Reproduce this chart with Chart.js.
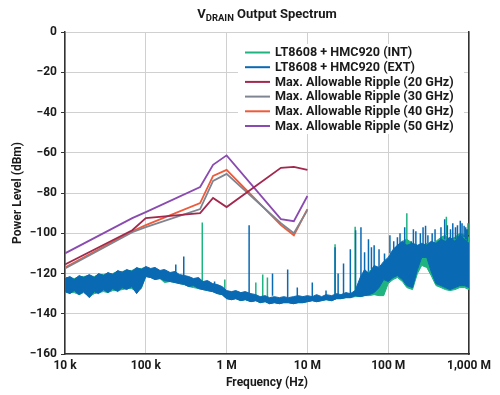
<!DOCTYPE html>
<html>
<head>
<meta charset="utf-8">
<script src="https://cdn.jsdelivr.net/npm/chart.js@4.4.1/dist/chart.umd.min.js"></script>
<style>
  html, body { margin: 0; padding: 0; background: #fff; }
  #wrap { width: 500px; height: 395px; }
</style>
</head>
<body>
<div id="wrap"><canvas id="chart" width="500" height="395"></canvas></div>
<script>
// ---- data ----

// title pieces: V + subscript DRAIN + rest
const titleParts = ['V', 'DRAIN', ' Output Spectrum'];

const seriesLabels = [
    'LT8608 + HMC920 (INT)',
    'LT8608 + HMC920 (EXT)',
    'Max. Allowable Ripple (20 GHz)',
    'Max. Allowable Ripple (30 GHz)',
    'Max. Allowable Ripple (40 GHz)',
    'Max. Allowable Ripple (50 GHz)'
];

// x axis ticks (Hz)
const xTickVals = [1e4, 1e5, 1e6, 1e7, 1e8, 1e9];
const xTickLabels = ['10 k', '100 k', '1 M', '10 M', '100 M', '1,000 M'];

// ripple limit lines (Hz / dBm)
const rippleFreq = [1e4, 6.8e4, 1e5, 4.7e5, 6.8e5, 1e6, 4.7e6, 6.8e6, 1e7];
const ripple20 = [-115.5, -98.5, -92.5, -90, -82.5, -87, -67.5, -67, -68.5];
const ripple30 = [-117.5, -99.5, -97, -88, -74, -70.5, -95, -100, -88.5];
const ripple40 = [-117, -99, -96, -85, -71.5, -68.5, -96, -101, -88];
const ripple50 = [-110, -92.5, -89.5, -77, -66, -61.3, -93, -94, -81.5];

// noise floor band: upper / lower envelope on a common frequency grid
const bandFreq = [
    1e4, 1.15e4, 1.3e4, 1.5e4, 1.7e4, 2e4, 2.3e4, 2.6e4, 3e4, 3.4e4, 3.9e4, 4.5e4, 5.1e4, 5.8e4, 6.7e4, 7.7e4, 8.8e4,
    1e5, 1.15e5, 1.3e5, 1.5e5, 1.7e5, 2e5, 2.3e5, 2.6e5, 3e5, 3.4e5, 3.9e5, 4.5e5, 5.1e5, 5.8e5, 6.7e5, 7.7e5, 8.8e5,
    1e6, 1.15e6, 1.3e6, 1.5e6, 1.7e6, 2e6, 2.3e6, 2.6e6, 3e6, 3.4e6, 3.9e6, 4.5e6, 5.1e6, 5.8e6, 6.7e6, 7.7e6, 8.8e6,
    1e7, 1.15e7, 1.3e7, 1.5e7, 1.7e7, 2e7, 2.3e7, 2.6e7, 3e7, 3.4e7, 3.9e7, 4.5e7, 5.1e7, 5.8e7, 6.7e7, 7.7e7, 8.8e7,
    1e8, 1.15e8, 1.3e8, 1.5e8, 1.7e8, 2e8, 2.3e8, 2.6e8, 3e8, 3.4e8, 3.9e8, 4.5e8, 5.1e8, 5.8e8, 6.7e8, 7.7e8, 8.8e8,
    1e9
];
const extHi = [
    -122.5, -121.5, -123, -121, -122, -120.5, -122, -120, -121, -119.5, -120.5, -118.5, -119.5, -118, -119, -117, -118,
    -116.5, -117.5, -117, -118.5, -118, -119.5, -119, -120.5, -121, -121.5, -122.5, -122, -124, -123.5, -125, -125.5, -126.5,
    -128.5, -129, -128.5, -129.5, -129, -130, -130.5, -131.5, -131, -132, -131.5, -132, -131.5, -132, -131.5, -131, -131.5,
    -131, -131.5, -130.5, -131.5, -130.5, -131, -130, -130.5, -129.5, -130, -128.5, -122, -118, -120, -116, -117, -114,
    -112, -108, -106, -104, -106, -105, -106, -105, -106, -104, -105, -103, -104, -102, -104, -101, -103,
    -105
];
const extLo = [
    -129, -130, -128.5, -130.5, -129, -132, -129, -130, -128, -129.5, -127.5, -129, -127, -128, -126.5, -130, -127,
    -121.5, -122, -123, -122.5, -123.5, -124, -124.5, -125, -125.5, -126.5, -126, -127.5, -128, -128.5, -129, -130, -130.5,
    -132.5, -133, -132.5, -133.5, -133, -134, -133.5, -134.5, -134, -135, -134.5, -135, -134.5, -134.5, -135, -134.5, -134.5,
    -134, -133.5, -134, -133.5, -133, -133.5, -132.5, -132.5, -132, -132, -131, -131.5, -131, -130.5, -129.5, -127, -123,
    -124, -122, -121, -123, -126, -127, -118, -112, -112, -119, -125, -126, -127, -128, -127, -126, -126,
    -127
];
const intHi = [
    -122, -122, -122.5, -121.5, -121.5, -121, -121.5, -120.5, -120.5, -120, -120, -119, -119, -118.5, -118.5, -117.5, -117.5,
    -117, -118, -117.5, -119, -118.5, -120, -119.5, -121, -121.5, -122, -123, -122.5, -124.5, -124, -125.5, -126, -127,
    -129, -129.5, -129, -130, -129.5, -130.5, -131, -132, -131.5, -132.5, -132, -132.5, -132, -132.5, -132, -131.5, -132,
    -131.5, -132, -131, -132, -131, -131.5, -130.5, -131, -130, -130.5, -129, -124, -120, -119, -117, -118, -116,
    -113, -109, -106, -104, -103, -105, -106, -107, -105, -105, -104, -102, -101, -103, -102, -100, -101,
    -102
];
const intLo = [
    -129.5, -129.5, -129.5, -130.5, -129.5, -131.5, -130, -129.5, -129, -129.5, -128.5, -128.5, -128, -127.5, -127.5, -129, -127.5,
    -121.5, -122, -123, -122.5, -124.5, -124, -124.5, -125, -125.5, -126.5, -127, -127.5, -128, -128.5, -129, -130, -130.5,
    -132.5, -133, -132.5, -133.5, -133, -134, -133.5, -134.5, -134, -135, -134.5, -135, -134.5, -134.5, -135, -134.5, -134.5,
    -134, -133.5, -134, -133.5, -133, -133.5, -132.5, -132.5, -132, -132, -131.5, -131.5, -131, -131, -130.5, -131, -131,
    -125, -123, -122, -124, -127, -128, -120, -116, -117, -121, -126, -127, -128, -128.5, -128, -127, -127,
    -128
];

// narrow spurs: frequency, peak, foot (dBm)
const extSpurFreq = [2.35e5, 2.95e5, 7.1e5, 1.9e6, 3.7e6, 5.7e6, 7.5e6, 1.15e7, 1.7e7, 2.2e7, 2.4e7, 2.8e7, 3.4e7, 3.95e7,
    4.6e7, 5.1e7, 5.7e7, 6.2e7, 6.7e7, 7.7e7, 9e7, 1.05e8, 1.17e8, 1.3e8, 1.4e8, 1.6e8, 1.93e8, 2.05e8, 2.2e8, 2.5e8,
    2.7e8, 2.9e8, 3.1e8, 3.5e8, 3.8e8, 4.2e8, 4.5e8, 5e8, 5.4e8, 5.9e8, 6.3e8, 6.8e8, 7.2e8, 7.8e8, 8.2e8, 8.7e8,
    9.1e8, 9.5e8];
const extSpurPeak = [-115.5, -111.5, -124, -96, -120, -118, -127, -124.5, -128.5, -107, -120, -115, -108, -98.5,
    -97, -109.5, -103, -107, -106, -108, -110, -101, -104, -102, -100, -97, -104, -98, -99, -100,
    -97, -96.3, -101, -100, -98, -104.5, -97, -93, -96, -98, -95, -97, -96, -93.8, -95, -96.3,
    -97, -98];
const extSpurFoot = [-120, -122, -127, -130, -131, -132, -132, -132, -132, -131, -131, -131, -130, -129,
    -125, -119, -119, -118, -117, -117, -114, -110, -108, -107, -106, -105, -106, -106, -106, -106,
    -106, -106, -105, -106, -104, -106, -104, -103, -104, -103, -103, -103, -103, -102, -102, -102,
    -103, -104];

const intSpurFreq = [5e5, 9.5e5, 2.3e6, 2.8e6, 3.2e6, 2.2e7, 3.9e7, 1.7e8, 5.25e8, 9.7e8];
const intSpurPeak = [-94.6, -123, -124.5, -120.5, -122, -105.5, -96.8, -90, -91.8, -95];
const intSpurFoot = [-126, -130, -131, -132, -132, -131, -129, -104, -101, -101];

// ---- colours ----
const colors = {
    int: '#1fb380',
    ext: '#0a69b3',
    r20: '#a3284e',
    r30: '#7f8590',
    r40: '#ee5a3a',
    r50: '#8a4ab0'
};

const pts = (freq, vals) => freq.map((f, i) => ({ x: f, y: vals[i] }));
const spurs = (freq, peak, foot) => freq.flatMap((f, i) => [
    { x: f, y: foot[i] }, { x: f, y: peak[i] }, { x: f, y: null }
]);

function rippleSet(label, color, vals) {
    return {
        label: label,
        data: pts(rippleFreq, vals),
        borderColor: color,
        backgroundColor: color,
        borderWidth: 1.8,
        pointRadius: 0,
        tension: 0,
        order: 0
    };
}

// Title with subscript, drawn above the plot
const titlePlugin = {
    id: 'vdrainTitle',
    afterDraw(chart) {
        const ctx = chart.ctx;
        const area = chart.chartArea;
        const big = 'bold 13px Roboto';
        const small = 'bold 9.5px Roboto';
        ctx.save();
        ctx.fillStyle = '#1a1a1a';
        ctx.textBaseline = 'alphabetic';
        ctx.font = big;
        const w0 = ctx.measureText(titleParts[0]).width;
        const w2 = ctx.measureText(titleParts[2]).width;
        ctx.font = small;
        const w1 = ctx.measureText(titleParts[1]).width;
        let x = (area.left + area.right) / 2 - (w0 + w1 + w2) / 2;
        ctx.font = big;
        ctx.fillText(titleParts[0], x, 18);
        x += w0;
        ctx.font = small;
        ctx.fillText(titleParts[1], x, 21);
        x += w1;
        ctx.font = big;
        ctx.fillText(titleParts[2], x, 18);
        ctx.restore();
    }
};

// Boxed legend inside the plot (upper right)
const legendPlugin = {
    id: 'boxLegend',
    beforeDatasetsDraw(chart) {
        const ctx = chart.ctx;
        const box = { x: 238, y: 44, w: 226, h: 90 };
        ctx.save();
        ctx.fillStyle = '#fff';
        ctx.fillRect(box.x, box.y, box.w, box.h);
        ctx.font = 'bold 12.6px Roboto';
        ctx.textBaseline = 'middle';
        ctx.fillStyle = '#1a1a1a';
        chart.data.datasets.filter(d => d.label).forEach((ds, i) => {
            const y = box.y + 8.5 + i * 14.7;
            ctx.strokeStyle = ds.borderColor;
            ctx.lineWidth = 2;
            ctx.beginPath();
            ctx.moveTo(box.x + 7, y);
            ctx.lineTo(box.x + 32, y);
            ctx.stroke();
            ctx.fillText(ds.label, box.x + 37, y + 0.5);
        });
        ctx.restore();
    }
};

Chart.defaults.font.family = 'Roboto';
Chart.defaults.font.size = 12;
Chart.defaults.font.weight = 'bold';
Chart.defaults.color = '#1a1a1a';

const ctx = document.getElementById('chart').getContext('2d');
new Chart(ctx, {
    type: 'line',
    data: {
        datasets: [
            {
                label: seriesLabels[0],
                data: pts(bandFreq, intHi),
                borderColor: colors.int,
                backgroundColor: colors.int,
                borderWidth: 1,
                pointRadius: 0,
                fill: 6,
                order: 3
            },
            {
                label: seriesLabels[1],
                data: pts(bandFreq, extHi),
                borderColor: colors.ext,
                backgroundColor: colors.ext,
                borderWidth: 1,
                pointRadius: 0,
                fill: 7,
                order: 2
            },
            rippleSet(seriesLabels[2], colors.r20, ripple20),
            rippleSet(seriesLabels[3], colors.r30, ripple30),
            rippleSet(seriesLabels[4], colors.r40, ripple40),
            rippleSet(seriesLabels[5], colors.r50, ripple50),
            // lower envelopes (fill targets), no legend entry
            {
                data: pts(bandFreq, intLo),
                borderColor: colors.int,
                borderWidth: 1,
                pointRadius: 0,
                fill: false,
                order: 3
            },
            {
                data: pts(bandFreq, extLo),
                borderColor: colors.ext,
                borderWidth: 1,
                pointRadius: 0,
                fill: false,
                order: 2
            },
            // spurs
            {
                data: spurs(intSpurFreq, intSpurPeak, intSpurFoot),
                borderColor: colors.int,
                borderWidth: 1.5,
                pointRadius: 0,
                spanGaps: false,
                order: 3
            },
            {
                data: spurs(extSpurFreq, extSpurPeak, extSpurFoot),
                borderColor: colors.ext,
                borderWidth: 1.5,
                pointRadius: 0,
                spanGaps: false,
                order: 2
            }
        ]
    },
    options: {
        responsive: false,
        animation: false,
        layout: {
            padding: { top: 32, right: 31, bottom: 0, left: 0 }
        },
        plugins: {
            legend: { display: false },
            title: { display: false },
            tooltip: { enabled: false }
        },
        scales: {
            x: {
                type: 'logarithmic',
                min: 1e4,
                max: 1e9,
                afterBuildTicks: axis => {
                    axis.ticks = xTickVals.map(v => ({ value: v }));
                },
                afterFit: axis => { axis.height = 41; },
                ticks: {
                    autoSkip: false,
                    maxRotation: 0,
                    padding: 5,
                    callback: (v, i) => xTickLabels[i]
                },
                grid: { color: '#d0d0d0', drawTicks: false },
                border: { color: '#333', width: 1.5 },
                title: {
                    display: true,
                    text: 'Frequency (Hz)',
                    padding: { top: 0, bottom: 5 }
                }
            },
            y: {
                min: -160,
                max: 0,
                afterFit: axis => { axis.width = 65; },
                ticks: {
                    stepSize: 20,
                    padding: 4,
                    callback: v => (v < 0 ? '\u2212' + (-v) : '' + v)
                },
                grid: { color: '#d0d0d0', tickColor: '#333', tickLength: 4 },
                border: { color: '#333', width: 1.5 },
                title: {
                    display: true,
                    text: 'Power Level (dBm)',
                    padding: { top: 11, bottom: 0 }
                }
            },
            y2: {
                position: 'right',
                min: -160,
                max: 0,
                afterFit: axis => { axis.width = 0; },
                ticks: { display: false },
                grid: { display: false, drawTicks: false },
                border: { display: true, color: '#333', width: 1.5 }
            }
        }
    },
    plugins: [legendPlugin, titlePlugin]
});
</script>
</body>
</html>
